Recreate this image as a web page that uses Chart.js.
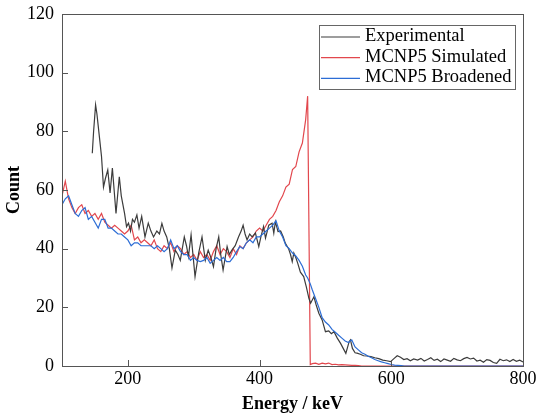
<!DOCTYPE html>
<html>
<head>
<meta charset="utf-8">
<script src="https://cdn.jsdelivr.net/npm/chart.js@4.4.1/dist/chart.umd.min.js"></script>
<style>
  html, body { margin: 0; padding: 0; background: #fff; }
</style>
</head>
<body>
<canvas id="spectrum" width="536" height="415"></canvas>
<script>
// energy grid (keV) shared by the two MCNP5 curves
const energy = [100,105,110,115,120,125,130,135,140,145,150,155,160,165,170,175,180,185,190,195,
  200,205,210,215,220,225,230,235,240,245,250,255,260,265,270,275,280,285,290,295,
  300,305,310,315,320,325,330,335,340,345,350,355,360,365,370,375,380,385,390,395,
  400,405,410,415,420,425,430,435,440,445,450,455,460,465,470,473,477,
  480,485,490,495,500,505,510,515,520,525,530,535,540,545,550,555,560,565,570,575,
  580,585,590,595,600,605,610,615,620,625,630,635,640,645,650,655,660,665,670,675,
  680,685,690,695,700,705,710,715,720,725,730,735,740,745,750,755,760,765,770,775,
  780,785,790,795,800];

const simulated = [58,63,57,54,52,54,55,52,53,51,52,50,52,49,48,47,48,47,46,45,
  46,48,43,44,42,43,42,41,43,40,39,41,40,42,39,41,40,38,39,37,
  38,36,39,37,38,36,39,41,38,40,39,37,40,38,41,40,42,43,44,46,
  47,46,48,50,51,53,56,58,61,62,67,68,73,76,84,92,0.5,
  0.8,1,0.6,1,0.7,1,0.5,0.6,0.4,0.5,0.4,0.3,0.2,0.2,0.1,0,0,0,0,0,
  0,0,0,0,0,0,0,0,0,0,0,0,0,0,0,0,0,0,0,0,
  0,0,0,0,0,0,0,0,0,0,0,0,0,0,0,0,0,0,0,0,
  0,0,0,0,0];

const broadened = [55,57,58,55,52,51,53,54,50,51,49,47,50,50,47,47,46,45,45,44,
  43,41,42,42,41,41,41,41,40,41,40,39,40,43,40,41,39,38,38,36,
  37,36,35.6,36,37,35,36,37,36,37,35.6,35.6,37,39,40.7,40,42,43,42,44,
  44,45,46,47,48,49.5,46,44,41,40,38.5,37.5,36,34,31,30,28,
  26,23,20,16.5,15,14,12.5,11.5,10.5,9.5,8.5,8,8.9,6.5,5.5,4.5,4,3.3,2.8,2.2,
  1.8,1.4,1.1,0.8,0.5,0.3,0.2,0.1,0,0,0,0,0,0,0,0,0,0,0,0,
  0,0,0,0,0,0,0,0,0,0,0,0,0,0,0,0,0,0,0,0,
  0,0,0,0,0];

// measured spectrum, own energy points
const expEnergy = [146,148,151,153,157,160,163,166,169.5,173,176.5,182,187,190,192,195,198,
  201,204,207,210,213.7,217,221,226,231,235,239,244,248,251.7,255,259,263,267,272,276,279.6,
  285.7,289,292,296,302,307.5,312.6,317.6,322,326,330,334,338,341,344.6,350.7,354,358,363,
  368,372,375,378,381,385,388.7,393.7,398.8,402,406,409,414,419,421.6,424,428,432,436,439,
  444,447,449.6,452,455,458,462,467,471,475,477.5,482.5,486,490,495,500,505,509,513,518,
  523,527,531,536,538,541,545,548,553,558,563,569,575,581,587,593,599,604,609,614,619,624,
  629,634,640,645,650,655,660,665,670,675,680,685,690,695,700,705,710,715,720,725,730,735,
  740,745,750,755,760,765,770,775,780,785,790,795,800];
const expCounts = [72.5,80,89,86,77.7,71.4,61,64,66.8,59,67.5,52,64.5,58,55.6,52,47.5,
  48.7,46,50,49,51.5,47,51,44,48.7,46,44,46,45,48.6,46,44,40,33.4,39.5,38,36,
  44,41,37.3,44.7,30.5,38.5,44,36,39.5,37,33.9,40,44,38,32.7,40.7,38,39.5,41,
  44,46,48,45,43,45,44,45.3,40.7,44,47.5,43.6,48,48.7,45.3,49.2,45.8,46,44,41.9,
  40,38,35.6,38.5,37,35,32,30.5,27,23,21.4,23.6,20.8,18,15.7,11.7,12,11,11.7,9.5,
  7.7,6,4.3,8.3,8.9,6,4.5,4.4,4,3.5,3.4,3.2,2.8,2.5,2,1.8,1.5,2.5,3.5,3,2.2,2.5,
  1.8,2.4,2,2.6,1.7,2.2,2.8,1.9,2.3,1.5,2.4,2,1.6,2.6,2.1,1.8,2.5,2.9,2.4,2.7,1.7,2,
  1.3,2.2,1.9,1.2,0.9,2.3,1.8,2.1,1.5,2.2,1.6,2,1.4];

const xTicks = [200, 400, 600, 800];
const yTicks = [0, 20, 40, 60, 80, 100, 120];

const FONT = '"Liberation Serif", "Times New Roman", serif';

function pts(xs, ys) {
  return xs.map((x, i) => ({ x: x, y: ys[i] }));
}

// inward tick marks + full frame
const framePlugin = {
  id: 'frame',
  afterDatasetsDraw(chart) {
    const ctx = chart.ctx;
    const a = chart.chartArea;
    const xs = chart.scales.x, ys = chart.scales.y;
    ctx.save();
    ctx.strokeStyle = '#555';
    ctx.lineWidth = 1;
    ctx.beginPath();
    xTicks.forEach(v => {
      const px = Math.round(xs.getPixelForValue(v)) + 0.5;
      ctx.moveTo(px, a.bottom);
      ctx.lineTo(px, a.bottom - 6);
    });
    yTicks.forEach(v => {
      const py = Math.round(ys.getPixelForValue(v)) + 0.5;
      ctx.moveTo(a.left, py);
      ctx.lineTo(a.left + 6, py);
    });
    ctx.stroke();
    ctx.strokeRect(Math.round(a.left) + 0.5, Math.round(a.top) + 0.5,
      Math.round(a.right - a.left), Math.round(a.bottom - a.top));
    ctx.restore();
  }
};

// boxed legend in the upper right corner of the plot
const boxLegend = {
  id: 'boxLegend',
  afterDraw(chart) {
    const ctx = chart.ctx;
    const left = 319, top = 25, w = 196, h = 64;
    ctx.save();
    ctx.fillStyle = '#fff';
    ctx.fillRect(left, top, w, h);
    ctx.strokeStyle = '#666';
    ctx.lineWidth = 1;
    ctx.strokeRect(left + 0.5, top + 0.5, w, h);
    ctx.font = '18.5px ' + FONT;
    ctx.textBaseline = 'middle';
    ctx.fillStyle = '#000';
    chart.data.datasets.forEach((ds, i) => {
      const y = top + 12 + i * 20.7;
      ctx.strokeStyle = ds.borderColor;
      ctx.lineWidth = 1.2;
      ctx.beginPath();
      ctx.moveTo(left + 2, y);
      ctx.lineTo(left + 41, y);
      ctx.stroke();
      ctx.fillText(ds.label, left + 46, y - 1);
    });
    ctx.restore();
  }
};

new Chart(document.getElementById('spectrum'), {
  type: 'line',
  data: {
    datasets: [
      {
        label: 'Experimental',
        data: pts(expEnergy, expCounts),
        borderColor: '#3c3c3c',
        borderWidth: 1.2,
        pointRadius: 0,
        tension: 0,
        order: 1
      },
      {
        label: 'MCNP5 Simulated',
        data: pts(energy, simulated),
        borderColor: '#e2474d',
        borderWidth: 1.2,
        pointRadius: 0,
        tension: 0,
        order: 2
      },
      {
        label: 'MCNP5 Broadened',
        data: pts(energy, broadened),
        borderColor: '#2c6dd5',
        borderWidth: 1.2,
        pointRadius: 0,
        tension: 0,
        order: 0
      }
    ]
  },
  options: {
    responsive: false,
    animation: false,
    devicePixelRatio: 1,
    layout: { padding: { top: 14, right: 13, left: 4, bottom: 0 } },
    plugins: {
      legend: { display: false },
      tooltip: { enabled: false }
    },
    scales: {
      x: {
        type: 'linear',
        min: 100,
        max: 800,
        afterBuildTicks: s => { s.ticks = xTicks.map(v => ({ value: v })); },
        afterFit: s => { s.height = 49; s.paddingLeft = 0; s.paddingRight = 0; },
        grid: { display: false, drawTicks: false, tickLength: 0 },
        border: { display: false },
        ticks: { color: '#000', font: { family: FONT, size: 18 }, padding: 2, maxRotation: 0, autoSkip: false },
        title: {
          display: true,
          text: 'Energy / keV',
          color: '#000',
          font: { family: FONT, size: 18, weight: 'bold' },
          padding: { top: 0, bottom: 0 }
        }
      },
      y: {
        min: 0,
        max: 120,
        afterBuildTicks: s => { s.ticks = yTicks.map(v => ({ value: v })); },
        afterFit: s => { s.width = 58; s.paddingTop = 0; s.paddingBottom = 0; },
        grid: { display: false, drawTicks: false, tickLength: 0 },
        border: { display: false },
        ticks: { color: '#000', font: { family: FONT, size: 18 }, padding: 8, autoSkip: false },
        title: {
          display: true,
          text: 'Count',
          color: '#000',
          font: { family: FONT, size: 18, weight: 'bold' },
          padding: { top: 0, bottom: 0 }
        }
      }
    }
  },
  plugins: [framePlugin, boxLegend]
});
</script>
</body>
</html>
